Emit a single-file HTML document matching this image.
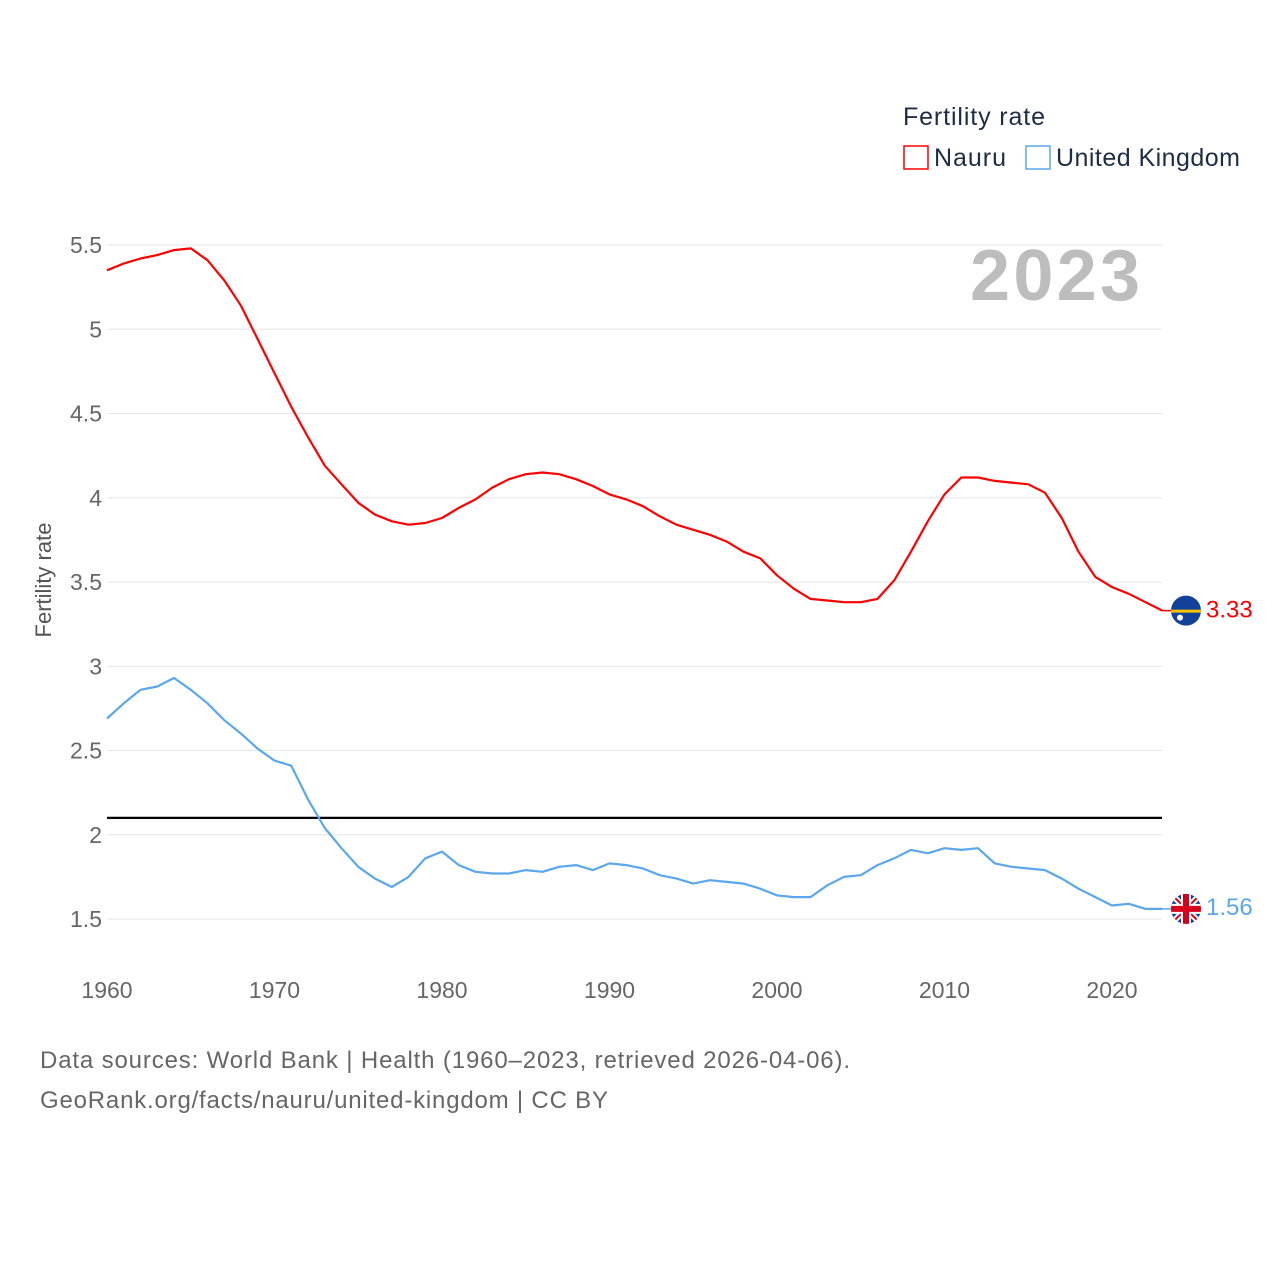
<!DOCTYPE html>
<html><head><meta charset="utf-8"><style>
body{margin:0;background:#fff;font-family:"Liberation Sans",sans-serif}
svg text{font-family:"Liberation Sans",sans-serif}
</style></head><body>
<svg id="chart" width="1280" height="1280" xmlns="http://www.w3.org/2000/svg">
<text x="903" y="125" font-size="25" fill="#1d2d44" textLength="142">Fertility rate</text>
<g><rect x="904" y="146" width="24" height="23" fill="none" stroke="#ff0000" stroke-width="1.5"/><text x="934" y="166" font-size="25" fill="#1d2d44" textLength="72">Nauru</text></g>
<g><rect x="1026" y="146" width="24" height="23" fill="none" stroke="#5ba7ee" stroke-width="1.5"/><text x="1056" y="166" font-size="25" fill="#1d2d44" textLength="184">United Kingdom</text></g>
<text x="970" y="300" font-size="72" font-weight="bold" fill="#bdbdbd" textLength="170">2023</text>
<text transform="translate(51,580) rotate(-90)" font-size="22" fill="#555" text-anchor="middle">Fertility rate</text>
<g id="grid"></g><g id="yt"></g><g id="xt"></g><g id="lines"></g>
<text x="40" y="1068" font-size="24" fill="#666" textLength="810">Data sources: World Bank | Health (1960–2023, retrieved 2026-04-06).</text>
<text x="40" y="1108" font-size="24" fill="#666" textLength="568">GeoRank.org/facts/nauru/united-kingdom | CC BY</text>
</svg>
<script>
const years=[];for(let y=1960;y<=2023;y++)years.push(y);
const nauru=[5.35,5.39,5.42,5.44,5.47,5.48,5.41,5.29,5.14,4.94,4.74,4.54,4.36,4.19,4.08,3.97,3.90,3.86,3.84,3.85,3.88,3.94,3.99,4.06,4.11,4.14,4.15,4.14,4.11,4.07,4.02,3.99,3.95,3.89,3.84,3.81,3.78,3.74,3.68,3.64,3.54,3.46,3.40,3.39,3.38,3.38,3.40,3.51,3.68,3.86,4.02,4.12,4.12,4.10,4.09,4.08,4.03,3.88,3.68,3.53,3.47,3.43,3.38,3.33];
const uk=[2.69,2.78,2.86,2.88,2.93,2.86,2.78,2.68,2.60,2.51,2.44,2.41,2.21,2.04,1.92,1.81,1.74,1.69,1.75,1.86,1.90,1.82,1.78,1.77,1.77,1.79,1.78,1.81,1.82,1.79,1.83,1.82,1.80,1.76,1.74,1.71,1.73,1.72,1.71,1.68,1.64,1.63,1.63,1.70,1.75,1.76,1.82,1.86,1.91,1.89,1.92,1.91,1.92,1.83,1.81,1.80,1.79,1.74,1.68,1.63,1.58,1.59,1.56,1.56];
const yTicks=[1.5,2,2.5,3,3.5,4,4.5,5,5.5];
const xTicks=[1960,1970,1980,1990,2000,2010,2020];
const replacement=2.1;
const NS="http://www.w3.org/2000/svg";
const xs=y=>107+(y-1960)*(1005/60);
const ys=v=>245+(5.5-v)*168.5;
function mk(t,a,p){const e=document.createElementNS(NS,t);for(const k in a)e.setAttribute(k,a[k]);document.getElementById(p).appendChild(e);return e;}
yTicks.forEach(v=>{
 const l=mk('line',{x1:107,x2:1162,y1:ys(v),y2:ys(v),stroke:'#e6e6e6','stroke-width':1},'grid');
 
 
 const t=mk('text',{x:102,y:ys(v)+8,'font-size':23,fill:'#666','text-anchor':'end'},'yt');t.textContent=String(v);
 
 
});
xTicks.forEach(y=>{
 const t=mk('text',{x:xs(y),y:998,'font-size':23,fill:'#666','text-anchor':'middle'},'xt');t.textContent=String(y);
 
 
});
const rl=mk('line',{x1:107,x2:1162,y1:ys(replacement),y2:ys(replacement),stroke:'#000','stroke-width':2.2},'lines');


function series(data,color,name,labelDy){
 const d=data.map((v,i)=>(i?'L':'M')+xs(years[i]).toFixed(1)+','+ys(v).toFixed(1)).join('');
 const p=mk('path',{d:d,fill:'none',stroke:color,'stroke-width':2.2,'stroke-linejoin':'round'},'lines');
 
 
 const last=data[data.length-1],lx=xs(years[years.length-1]),ly=ys(last);
 mk('line',{x1:lx,x2:lx+10,y1:ly,y2:ly,stroke:color,'stroke-width':1.5},'lines');
 const t=mk('text',{x:1206,y:ly+8+labelDy,'font-size':24,fill:color},'lines');t.textContent=last.toFixed(2);
 
 
 return ly;
}
const ny=series(nauru,'#ff0000','nauru',-1);
const uy=series(uk,'#5ba7ee','united-kingdom',-2);
const fn=mk('g',{},'lines');


fn.innerHTML=`<circle cx="1186" cy="${ny}" r="15" fill="#12419a"/><rect x="1171" y="${ny-1}" width="30" height="3" fill="#f8c300"/><circle cx="1180" cy="${ny+7}" r="3" fill="#fff"/>`;
const fu=mk('g',{},'lines');


fu.innerHTML=`<defs><clipPath id="cu"><circle cx="1186" cy="${uy}" r="15"/></clipPath></defs><g clip-path="url(#cu)"><rect x="1170" y="${uy-16}" width="32" height="32" fill="#0a3f9a"/><path d="M1170,${uy-16}L1202,${uy+16}M1202,${uy-16}L1170,${uy+16}" stroke="#fff" stroke-width="6"/><path d="M1170,${uy-16}L1202,${uy+16}M1202,${uy-16}L1170,${uy+16}" stroke="#d6001c" stroke-width="2"/><rect x="1170" y="${uy-5}" width="32" height="10" fill="#fff"/><rect x="1181" y="${uy-16}" width="10" height="32" fill="#fff"/><rect x="1170" y="${uy-3}" width="32" height="6" fill="#d6001c"/><rect x="1183" y="${uy-16}" width="6" height="32" fill="#d6001c"/></g>`;
</script>
</body></html>
